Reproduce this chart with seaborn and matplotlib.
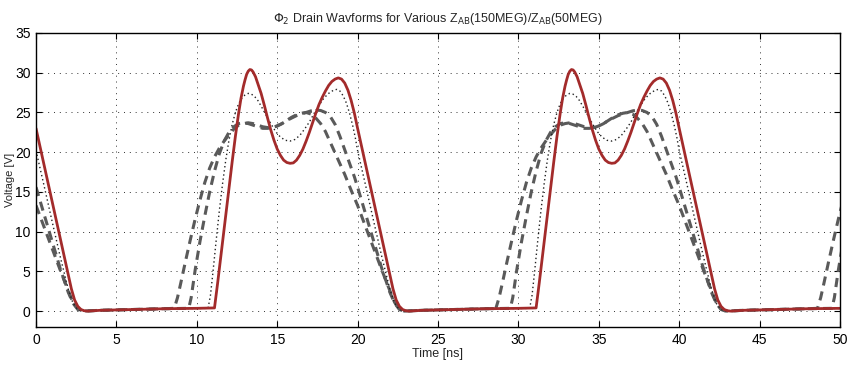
import numpy as np
import pandas as pd
import matplotlib
matplotlib.use("Agg")
import matplotlib.pyplot as plt
import seaborn as sns

# ---- data: one 20 ns period of each waveform ----
t_solid = [0.0, 0.5, 1.0, 1.5, 2.0, 2.2, 2.4, 2.6, 2.8, 3.0, 3.2, 4.0, 6.0, 8.0, 10.0, 11.1,
           11.3, 11.6, 11.9, 12.2, 12.4, 12.6, 12.75, 12.9, 13.0, 13.1, 13.2, 13.3, 13.4,
           13.5, 13.65, 13.8, 14.0, 14.2, 14.4, 14.6, 14.8, 15.0, 15.2, 15.4, 15.6, 15.8,
           16.0, 16.2, 16.4, 16.6, 16.8, 17.0, 17.2, 17.4, 17.6, 17.8, 18.0, 18.2, 18.4,
           18.6, 18.8, 19.0, 19.2, 19.4, 19.6, 19.8]
v_solid = [23.0, 18.4, 13.8, 9.2, 4.6, 2.8, 1.4, 0.6, 0.2, 0.05, 0.0, 0.1, 0.2, 0.3, 0.35, 0.4,
           3.6, 8.7, 13.8, 18.8, 22.0, 24.9, 26.8, 28.3, 29.1, 29.8, 30.2, 30.4, 30.35,
           30.1, 29.5, 28.6, 27.4, 25.9, 24.3, 22.8, 21.5, 20.4, 19.6, 19.0, 18.7, 18.6,
           18.65, 19.0, 19.6, 20.4, 21.4, 22.5, 23.7, 24.9, 26.0, 26.9, 27.7, 28.4, 28.9,
           29.2, 29.35, 29.2, 28.7, 27.8, 26.5, 24.9]

t_dot = [0.0, 0.5, 1.0, 1.5, 2.0, 2.3, 2.6, 2.9, 3.2, 4.0, 6.0, 8.0, 10.7, 10.85, 11.0,
         11.2, 11.4, 11.6, 11.8, 12.0, 12.2, 12.4, 12.6, 12.8, 13.0, 13.2, 13.4, 13.6,
         13.8, 14.0, 14.3, 14.6, 14.9, 15.2, 15.5, 15.8, 16.1, 16.4, 16.7, 17.0, 17.3,
         17.6, 17.9, 18.2, 18.5, 18.7, 18.9, 19.1, 19.3, 19.5, 19.7, 19.85]
v_dot = [20.2, 15.8, 11.3, 6.9, 2.8, 1.0, 0.2, 0.0, 0.0, 0.1, 0.2, 0.3, 0.35, 2.0, 4.8,
         8.8, 12.6, 16.0, 19.0, 21.5, 23.5, 25.0, 26.1, 26.8, 27.2, 27.4, 27.3, 27.0,
         26.5, 25.8, 24.7, 23.6, 22.6, 21.9, 21.5, 21.4, 21.6, 22.1, 22.9, 23.8, 24.9,
         25.9, 26.8, 27.4, 27.8, 27.9, 27.7, 27.1, 26.2, 24.9, 23.3, 21.9]

t_dashA = [0.0, 0.5, 1.0, 1.5, 2.0, 2.3, 2.6, 2.9, 4.0, 6.0, 8.0, 8.6, 8.8, 9.0, 9.3, 9.6,
           9.9, 10.2, 10.5, 10.8, 11.1, 11.4, 11.7, 12.0, 12.3, 12.6, 12.9, 13.2, 13.5,
           13.8, 14.1, 14.4, 14.7, 15.0, 15.3, 15.6, 15.9, 16.2, 16.5, 16.8, 17.1, 17.4,
           17.7, 18.0, 18.4, 18.8, 19.2, 19.6]
v_dashA = [13.3, 10.6, 7.9, 5.2, 2.6, 1.1, 0.3, 0.0, 0.1, 0.2, 0.3, 0.35, 1.7, 3.5, 6.3, 9.0,
           11.6, 14.0, 16.2, 18.0, 19.4, 20.5, 21.4, 22.2, 22.9, 23.4, 23.6, 23.7, 23.6,
           23.4, 23.2, 23.1, 23.1, 23.3, 23.6, 24.0, 24.4, 24.7, 24.9, 25.0, 24.8, 24.3,
           23.6, 22.6, 20.8, 19.0, 17.2, 15.2]

t_dashB = [0.0, 0.5, 1.0, 1.5, 2.0, 2.3, 2.6, 2.9, 4.0, 6.0, 8.0, 9.5, 9.65, 9.9, 10.2,
           10.5, 10.8, 11.1, 11.4, 11.7, 12.0, 12.3, 12.6, 12.9, 13.2, 13.5, 13.8, 14.1,
           14.4, 14.7, 15.0, 15.3, 15.6, 15.9, 16.2, 16.5, 16.8, 17.1, 17.4, 17.7, 18.0,
           18.3, 18.6, 18.9, 19.2, 19.5, 19.8]
v_dashB = [15.6, 12.2, 8.8, 5.4, 2.4, 1.0, 0.2, 0.0, 0.1, 0.2, 0.3, 0.35, 1.7, 5.2, 8.8,
           12.0, 15.0, 17.6, 19.8, 21.4, 22.5, 23.2, 23.6, 23.7, 23.6, 23.4, 23.2, 23.0,
           23.0, 23.1, 23.3, 23.6, 24.0, 24.3, 24.6, 24.8, 25.0, 25.2, 25.3, 25.25, 25.0,
           24.5, 23.5, 22.0, 20.3, 18.6, 16.9]

period = 20.0
n_periods = 3
xticks = [0, 5, 10, 15, 20, 25, 30, 35, 40, 45, 50]
yticks = [0, 5, 10, 15, 20, 25, 30, 35]


def repeat(t, v):
    tt, vv = [], []
    for k in range(n_periods):
        tt.extend(np.asarray(t) + k * period)
        vv.extend(v)
    return np.array(tt), np.array(vv)


sns.set_theme(style="white")
plt.rcParams['font.family'] = ['Liberation Sans', 'DejaVu Sans']

fig = plt.figure(figsize=(8.51, 3.65), dpi=100)
ax = fig.add_axes([36 / 851, 1 - 327 / 365, (840 - 36) / 851, (327 - 33) / 365])

series = [
    (t_dashA, v_dashA, dict(color="#5a5a5a", lw=2.2, linestyle=(0, (3, 2)))),
    (t_dashB, v_dashB, dict(color="#5a5a5a", lw=2.2, linestyle=(0, (3, 2)))),
    (t_dot, v_dot, dict(color="#222222", lw=1.0, linestyle=(0, (1, 2)))),
    (t_solid, v_solid, dict(color="#a32b2b", lw=2.0, linestyle="-")),
]
for t, v, st in series:
    tt, vv = repeat(t, v)
    df = pd.DataFrame({"t": tt, "v": vv})
    sns.lineplot(data=df, x="t", y="v", ax=ax, sort=False, estimator=None, **st)

ax.set_xlim(0, 50)
ax.set_ylim(-2, 35)
ax.set_xticks(xticks)
ax.set_yticks(yticks)
ax.tick_params(direction="in", length=4, width=0.8, labelsize=10, colors="black",
               top=True, right=True, bottom=True, left=True, pad=4)
for s in ax.spines.values():
    s.set_color("black")
    s.set_linewidth(1.0)
ax.grid(True, linestyle=(0, (1, 5)), color="#333333", linewidth=0.7)
ax.set_xlabel("Time [ns]", fontsize=9, labelpad=1)
ax.set_ylabel("Voltage [V]", fontsize=8)
ax.yaxis.set_label_coords(-0.026, 0.5)
ax.set_title(r"$\Phi_2$ Drain Wavforms for Various Z$_{\rm AB}$(150MEG)/Z$_{\rm AB}$(50MEG)",
             fontsize=9, pad=8)

fig.savefig("out.png", dpi=100)
